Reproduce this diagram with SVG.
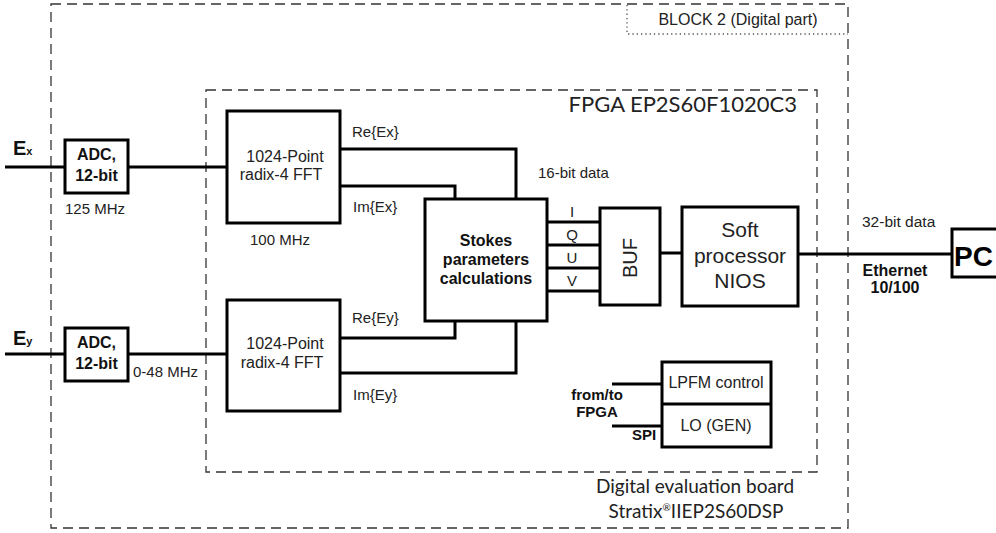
<svg xmlns="http://www.w3.org/2000/svg" width="996" height="533" viewBox="0 0 996 533">
<style>
.box{fill:#fff;stroke:#000;stroke-width:3}
.wire{fill:none;stroke:#000;stroke-width:3}
.dash{fill:none;stroke:#333;stroke-width:1.3;stroke-dasharray:10 6}
.dot{fill:none;stroke:#555;stroke-width:1.3;stroke-dasharray:1.3 3}
.t{font-family:"Liberation Sans",Arial,sans-serif;fill:#222;font-size:15px}
.b{font-weight:bold;fill:#111}
.c{font-family:Lato,"Open Sans",sans-serif;fill:#222}
.m{text-anchor:middle}
.s16{font-size:16px}
.s20{font-size:20px}
.s21{font-size:21px}
</style>
<rect width="996" height="533" fill="#fff"/>
<g id="block2">
<rect class="dash" x="51" y="4" width="797" height="524"/>
<path class="dot" d="M627,5 V34 H848"/>
<text class="t m s16" x="738" y="25">BLOCK 2 (Digital part)</text>
<text class="c m" x="695" y="493" style="font-size:19px">Digital evaluation board</text>
<text class="c m" x="696" y="518" style="font-size:19px">Stratix<tspan style="font-size:10px" dy="-7">®</tspan><tspan dy="7">IIEP2S60DSP</tspan></text>
</g>
<g id="fpga">
<rect class="dash" x="206" y="90" width="611" height="382"/>
<text class="c" x="797" y="112" style="font-size:22px" text-anchor="end">FPGA EP2S60F1020C3</text>
</g>
<g id="connectors">
<path class="wire" d="M5,167 H65 M128,167 H227"/>
<path class="wire" d="M5,354 H65 M128,354 H227"/>
<path class="wire" d="M340,149 H516 V199"/>
<path class="wire" d="M340,186 H455 V199"/>
<path class="wire" d="M340,338 H455 V321"/>
<path class="wire" d="M340,373 H516 V321"/>
<path class="wire" d="M547,222 H600 M547,245 H600 M547,268 H600 M547,291 H600"/>
<path class="wire" d="M660,253 H682"/>
<path class="wire" d="M798,254 H952"/>
<path class="wire" d="M612,384 H662 M612,426 H662"/>
</g>
<g id="labels">
<text class="t b s20" x="13" y="155">E<tspan style="font-size:11px">x</tspan></text>
<text class="t b s20" x="13" y="345">E<tspan style="font-size:11px">y</tspan></text>
<text class="t" x="65" y="214">125 MHz</text>
<text class="t" x="133" y="377">0-48 MHz</text>
<text class="t" x="250" y="245">100 MHz</text>
<text class="t" x="352" y="137">Re{Ex}</text>
<text class="t" x="353" y="212">Im{Ex}</text>
<text class="t" x="352" y="323">Re{Ey}</text>
<text class="t" x="353" y="400">Im{Ey}</text>
<text class="t" x="538" y="178">16-bit data</text>
<text class="t m" x="572" y="217">I</text>
<text class="t m" x="572" y="240">Q</text>
<text class="t m" x="572" y="263">U</text>
<text class="t m" x="572" y="286">V</text>
<text class="t" x="862" y="227" style="font-size:15.5px">32-bit data</text>
<text class="t b m s16" x="895" y="276">Ethernet</text>
<text class="t b m s16" x="895" y="293">10/100</text>
<text class="t b m" x="597" y="400">from/to</text>
<text class="t b m" x="597" y="417">FPGA</text>
<text class="t b" x="632" y="440">SPI</text>
</g>
<g id="adc-x">
<rect class="box" x="65" y="140" width="63" height="53"/>
<text class="t b m s16" x="96.5" y="160">ADC,</text>
<text class="t b m s16" x="96.5" y="181">12-bit</text>
</g>
<g id="adc-y">
<rect class="box" x="65" y="328" width="63" height="53"/>
<text class="t b m s16" x="96.5" y="348">ADC,</text>
<text class="t b m s16" x="96.5" y="369">12-bit</text>
</g>
<g id="fft-x">
<rect class="box" x="227" y="111" width="113" height="112"/>
<text class="t m s16" x="285" y="162">1024-Point</text>
<text class="t m s16" x="281" y="180">radix-4 FFT</text>
</g>
<g id="fft-y">
<rect class="box" x="227" y="300" width="113" height="111"/>
<text class="t m s16" x="285" y="349">1024-Point</text>
<text class="t m s16" x="282" y="368">radix-4 FFT</text>
</g>
<g id="stokes">
<rect class="box" x="425" y="199" width="122" height="122"/>
<text class="t b m s16" x="486" y="246">Stokes</text>
<text class="t b m s16" x="486" y="265">parameters</text>
<text class="t b m s16" x="486" y="284">calculations</text>
</g>
<g id="buf">
<rect class="box" x="600" y="208" width="60" height="97"/>
<text class="t m s20" transform="translate(637,258) rotate(-90)">BUF</text>
</g>
<g id="nios">
<rect class="box" x="682" y="207" width="116" height="99"/>
<text class="t m s21" x="740" y="237">Soft</text>
<text class="t m s21" x="740" y="263">processor</text>
<text class="t m s21" x="740" y="288">NIOS</text>
</g>
<g id="pc">
<rect class="box" x="952" y="229" width="50" height="48"/>
<text class="t b" x="954" y="266" style="font-size:28px;fill:#000">PC</text>
</g>
<g id="lpfm">
<rect class="box" x="662" y="362" width="109" height="85"/>
<path class="wire" d="M662,404 H771"/>
<text class="t m s16" x="716" y="388">LPFM control</text>
<text class="t m s16" x="716" y="431">LO (GEN)</text>
</g>
</svg>
